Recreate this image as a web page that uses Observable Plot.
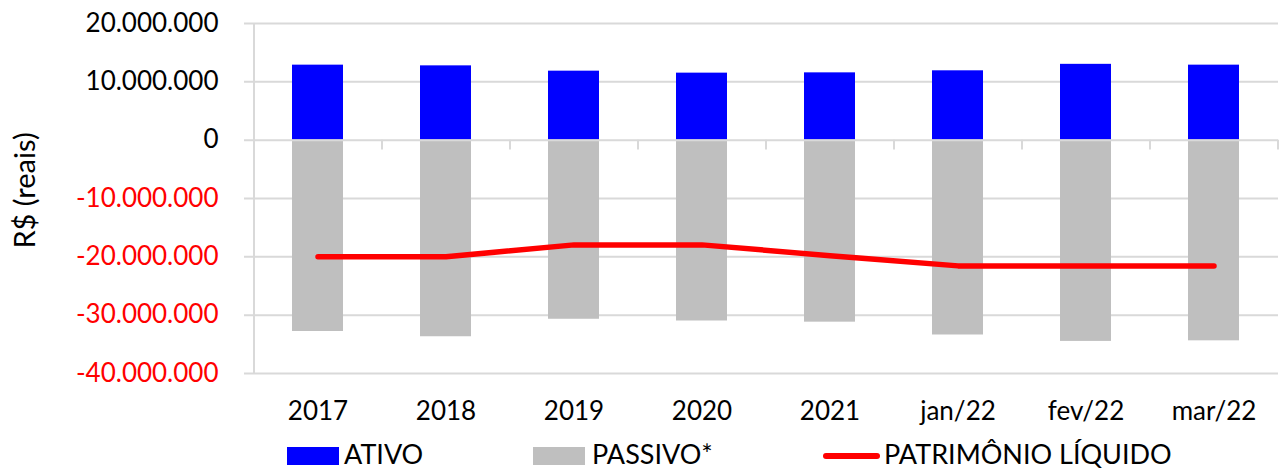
<!DOCTYPE html>
<html>
<head>
<meta charset="utf-8">
<script src="https://cdn.jsdelivr.net/npm/d3@7"></script>
<script src="https://cdn.jsdelivr.net/npm/@observablehq/plot@0.6"></script>
<style>
  html, body { margin: 0; padding: 0; background: #fff; }
  #wrap { position: relative; width: 1284px; height: 472px; overflow: hidden; font-family: Lato, sans-serif; }
  #chart svg { display: block; }
  .sw { position: absolute; width: 52px; height: 18px; top: 447px; }
  .ln { position: absolute; width: 57px; height: 6px; border-radius: 3px; top: 453px; background: #ff0000; }
  .tx { position: absolute; top: 440px; font-size: 27px; line-height: 27px; color: #000; white-space: nowrap; }
</style>
</head>
<body>
<div id="wrap">
  <div id="chart"></div>
  <div class="sw" style="left:287px;background:#0000ff"></div>
  <div class="tx" style="left:344px">ATIVO</div>
  <div class="sw" style="left:533px;background:#bfbfbf"></div>
  <div class="tx" style="left:592px">PASSIVO*</div>
  <div class="ln" style="left:823px"></div>
  <div class="tx" style="left:884px">PATRIMÔNIO LÍQUIDO</div>
</div>
<script>
const categories = ["2017", "2018", "2019", "2020", "2021", "jan/22", "fev/22", "mar/22"];
const ativo = [12860000, 12740000, 11830000, 11490000, 11540000, 11890000, 13000000, 12860000];
const passivo = [-32800000, -33700000, -30700000, -31000000, -31200000, -33400000, -34500000, -34400000];
const patrimonio = [-20000000, -20000000, -17950000, -17950000, -19800000, -21550000, -21550000, -21550000];
const yTicksPos = [0, 10000000, 20000000];
const yTicksNeg = [-10000000, -20000000, -30000000, -40000000];
const yLabel = "R$ (reais)";

const rows = categories.map((c, i) => ({cat: c, ativo: ativo[i], passivo: passivo[i], pl: patrimonio[i]}));
const fmt = d3.formatLocale({decimal: ",", thousands: ".", grouping: [3], currency: ["", ""], minus: "-"}).format(",d");

const W = 1284, H = 432, ML = 254, MR = 6, MT = 23, MB = 59;
const step = (W - ML - MR) / categories.length;
const grid = "#d9d9d9";
const allTicks = [...yTicksNeg, ...yTicksPos];

const chart = Plot.plot({
  width: W, height: H,
  marginLeft: ML, marginRight: MR, marginTop: MT, marginBottom: MB,
  style: {fontFamily: "Lato, sans-serif", background: "#fff"},
  x: {domain: categories, paddingInner: 0.6, paddingOuter: 0.3, axis: null},
  y: {domain: [-40000000, 20000000], axis: null},
  marks: [
    Plot.ruleY(allTicks.filter(d => d !== 0), {stroke: grid, strokeWidth: 2, insetLeft: -10}),
    Plot.ruleX(categories.slice(0, 1), {x: d => d, y1: -40000000, y2: 20000000, dx: -step / 2, stroke: grid, strokeWidth: 2}),
    Plot.barY(rows, {x: "cat", y: "ativo", fill: "#0000ff"}),
    Plot.barY(rows, {x: "cat", y: "passivo", fill: "#bfbfbf"}),
    Plot.ruleY([0], {stroke: grid, strokeWidth: 2, insetLeft: -10}),
    Plot.ruleX(categories, {x: d => d, y1: 0, y2: -1700000, dx: -step / 2, stroke: grid, strokeWidth: 2}),
    Plot.ruleX(categories.slice(-1), {x: d => d, y1: 0, y2: -1700000, dx: step / 2, stroke: grid, strokeWidth: 2}),
    Plot.line(rows, {x: "cat", y: "pl", stroke: "#ff0000", strokeWidth: 5.5, strokeLinecap: "round", strokeLinejoin: "round"}),
    Plot.axisY({ticks: yTicksPos, tickSize: 0, tickPadding: 36, tickFormat: fmt, fontSize: 26, fill: "#000", label: null}),
    Plot.axisY({ticks: yTicksNeg, tickSize: 0, tickPadding: 36, tickFormat: fmt, fontSize: 26, fill: "#ff0000", label: null}),
    Plot.axisX({tickSize: 0, tickPadding: 28, fontSize: 26, fill: "#000", label: null}),
    Plot.text([yLabel], {text: d => d, frameAnchor: "left", textAnchor: "middle", lineAnchor: "middle", rotate: -90, dx: -229, dy: -8, fontSize: 29, fill: "#000"})
  ]
});
document.getElementById("chart").appendChild(chart);
</script>
</body>
</html>
